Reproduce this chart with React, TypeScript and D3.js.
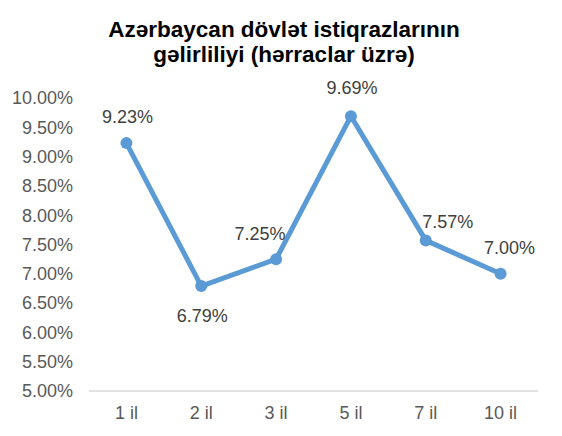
import * as React from 'react';
import * as d3 from 'd3';

// chart data
const categories = ['1 il', '2 il', '3 il', '5 il', '7 il', '10 il'];
const yields = [9.23, 6.79, 7.25, 9.69, 7.57, 7.0];
const yTicks = [5, 5.5, 6, 6.5, 7, 7.5, 8, 8.5, 9, 9.5, 10];
const titleLines = ['Azərbaycan dövlət istiqrazlarının', 'gəlirliliyi (hərraclar üzrə)'];

// label placement relative to each point (dx, dy)
const labelOffsets: [number, number][] = [
  [1, -26],
  [1, 30],
  [-16, -25],
  [1, -28],
  [22, -19],
  [9, -26],
];

const width = 562;
const height = 436;
const marginLeft = 89;
const marginRight = 24;
const plotTop = 98;
const plotBottom = 391;

const App: React.FC = () => {
  const x = d3.scaleBand<string>()
    .domain(categories)
    .range([marginLeft, width - marginRight]);
  const y = d3.scaleLinear()
    .domain([5, 10])
    .range([plotBottom, plotTop]);
  const line = d3.line<number>()
    .x((d, i) => x(categories[i])! + x.bandwidth() / 2)
    .y(d => y(d));

  const fmt = (v: number) => v.toFixed(2) + '%';

  return (
    <svg
      width={width}
      height={height}
      style={{ position: 'absolute', left: 0, top: 0, fontFamily: 'Liberation Sans, Arial, sans-serif' }}
    >
      <rect width={width} height={height} fill="#fff" />
      <g fontWeight="bold" fontSize={22.5} fill="#000" textAnchor="middle">
        {titleLines.map((t, i) => (
          <text key={i} x={284} y={37 + i * 25}>{t}</text>
        ))}
      </g>
      <g fontSize={18} fill="#595959" textAnchor="end">
        {yTicks.map(t => (
          <text key={t} x={73} y={y(t)} dy="0.35em">{fmt(t)}</text>
        ))}
      </g>
      <line x1={marginLeft} x2={width - marginRight} y1={plotBottom} y2={plotBottom} stroke="#d9d9d9" strokeWidth={1.5} />
      <g fontSize={18} fill="#595959" textAnchor="middle">
        {categories.map(c => (
          <text key={c} x={x(c)! + x.bandwidth() / 2} y={413} dy="0.35em">{c}</text>
        ))}
      </g>
      <path d={line(yields) || undefined} fill="none" stroke="#5b9bd5" strokeWidth={5} strokeLinejoin="round" />
      <g fill="#5b9bd5">
        {yields.map((d, i) => (
          <circle key={i} cx={x(categories[i])! + x.bandwidth() / 2} cy={y(d)} r={6} />
        ))}
      </g>
      <g fontSize={18} fill="#404040" textAnchor="middle">
        {yields.map((d, i) => (
          <text
            key={i}
            x={x(categories[i])! + x.bandwidth() / 2 + labelOffsets[i][0]}
            y={y(d) + labelOffsets[i][1]}
            dy="0.35em"
          >
            {fmt(d)}
          </text>
        ))}
      </g>
    </svg>
  );
};

export default App;
